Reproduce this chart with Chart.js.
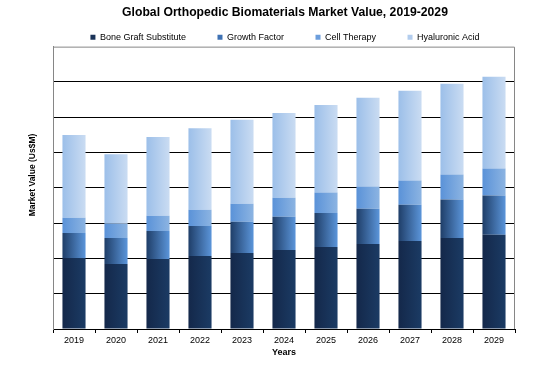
<!DOCTYPE html>
<html>
<head>
<meta charset="utf-8">
<script src="https://cdn.jsdelivr.net/npm/chart.js@4.4.1/dist/chart.umd.min.js"></script>
<style>
html, body { margin: 0; padding: 0; background: #fff; }
#wrap { width: 548px; height: 365px; }
</style>
</head>
<body>
<div id="wrap"><canvas id="chart"></canvas></div>
<script>
// values (no tick labels shown, gridline = 1 unit)
const years = ["2019", "2020", "2021", "2022", "2023", "2024", "2025", "2026", "2027", "2028", "2029"];
const boneGraft = [2.01, 1.84, 1.98, 2.07, 2.15, 2.24, 2.32, 2.41, 2.49, 2.58, 2.67];
const growthFactor = [0.71, 0.74, 0.80, 0.85, 0.89, 0.94, 0.97, 1.00, 1.03, 1.09, 1.11];
const cellTherapy = [0.43, 0.40, 0.43, 0.46, 0.51, 0.54, 0.58, 0.63, 0.69, 0.71, 0.77];
const hyaluronicAcid = [2.35, 1.97, 2.23, 2.31, 2.38, 2.40, 2.48, 2.51, 2.54, 2.57, 2.60];
const yMax = 8;

const seriesNames = ["Bone Graft Substitute", "Growth Factor", "Cell Therapy", "Hyaluronic Acid"];
const gradColors = [
    ["#14284a", "#1b3b64"],
    ["#1f3e68", "#5b95da"],
    ["#5a92d8", "#8cb4e2"],
    ["#9cbfe9", "#cadcf2"]
];
const legendColors = ["#1a3358", "#3f72b4", "#6c9edc", "#b3cdee"];
const barPct = 0.55;
const legendGap = "           "; // spacing between legend entries

function barFill(i) {
    return function(ctx) {
        const chart = ctx.chart;
        const xs = chart.scales.x;
        if (!chart.chartArea || ctx.dataIndex === undefined) return gradColors[i][1];
        const cx = xs.getPixelForValue(ctx.dataIndex);
        const w = xs.width / years.length * barPct;
        const g = chart.ctx.createLinearGradient(cx - w / 2, 0, cx + w / 2, 0);
        g.addColorStop(0, gradColors[i][0]);
        g.addColorStop(1, gradColors[i][1]);
        return g;
    };
}

const allData = [boneGraft, growthFactor, cellTherapy, hyaluronicAcid];
const datasets = allData.map(function(d, i) {
    return {
        label: seriesNames[i],
        data: d,
        backgroundColor: barFill(i),
        borderWidth: 0,
        barPercentage: barPct,
        categoryPercentage: 1
    };
});

const frame = {
    id: "frame",
    afterDraw(chart) {
        const c = chart.ctx;
        const a = chart.chartArea;
        c.save();
        c.strokeStyle = "#868686";
        c.lineWidth = 1;
        c.beginPath();
        c.moveTo(a.left, a.top + 0.5);
        c.lineTo(a.right - 0.5, a.top + 0.5);
        c.lineTo(a.right - 0.5, a.bottom);
        c.stroke();
        // y axis title
        c.translate(33, 175);
        c.rotate(-Math.PI / 2);
        c.fillStyle = "#000";
        c.font = "bold 8.5px 'Liberation Sans', Arial, sans-serif";
        c.textAlign = "center";
        c.textBaseline = "middle";
        c.fillText("Market Value (Us$M)", 0, 0);
        c.restore();
    }
};

new Chart("chart", {
    type: "bar",
    data: { labels: years, datasets: datasets },
    plugins: [frame],
    options: {
        responsive: true,
        maintainAspectRatio: false,
        animation: false,
        layout: { padding: { left: 22, right: 0, top: 3, bottom: 0 } },
        plugins: {
            title: {
                display: true,
                text: "Global Orthopedic Biomaterials Market Value, 2019-2029",
                color: "#000",
                font: { family: "'Liberation Sans', Arial, sans-serif", size: 12.2, weight: "bold" },
                padding: { top: 2, bottom: 9 }
            },
            legend: {
                display: true,
                maxHeight: 18,
                labels: {
                    color: "#000",
                    font: { family: "'Liberation Sans', Arial, sans-serif", size: 9 },
                    boxWidth: 5,
                    boxHeight: 5,
                    padding: 4,
                    generateLabels: function(chart) {
                        return seriesNames.map(function(n, i) {
                            const txt = i < seriesNames.length - 1 ? n + legendGap : n;
                            return { text: txt, fillStyle: legendColors[i], strokeStyle: legendColors[i], lineWidth: 0, datasetIndex: i, fontColor: "#000" };
                        });
                    }
                }
            },
            tooltip: { enabled: false }
        },
        scales: {
            x: {
                stacked: true,
                grid: { display: true, drawOnChartArea: false, drawTicks: true, tickLength: 4, color: "#000", offset: true },
                border: { display: true, color: "#000", width: 1 },
                ticks: {
                    color: "#000",
                    padding: 2,
                    maxRotation: 0,
                    font: { family: "'Liberation Sans', Arial, sans-serif", size: 9 }
                },
                title: {
                    display: true,
                    text: "Years",
                    color: "#000",
                    font: { family: "'Liberation Sans', Arial, sans-serif", size: 9, weight: "bold" },
                    padding: { top: 0, bottom: 7 }
                },
                afterFit: function(s) { s.height = 36; }
            },
            y: {
                stacked: true,
                min: 0,
                max: yMax,
                ticks: { display: false, stepSize: 1 },
                grid: {
                    color: function(ctx) { return ctx.tick && ctx.tick.value === yMax ? "rgba(0,0,0,0)" : "#000"; },
                    lineWidth: 1,
                    drawTicks: false
                },
                border: { display: true, color: "#868686", width: 1 },
                afterFit: function(s) { s.width = 31; }
            },
            y2: {
                position: "right",
                display: true,
                min: 0,
                max: yMax,
                ticks: { display: false },
                grid: { display: false, drawTicks: false },
                border: { display: false },
                afterFit: function(s) { s.width = 33; }
            }
        }
    }
});
</script>
</body>
</html>
